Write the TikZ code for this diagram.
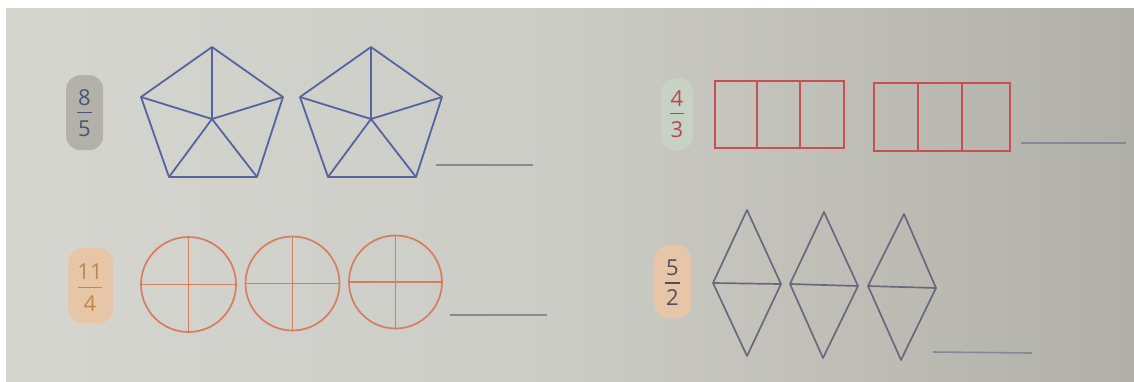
\documentclass[tikz,border=0pt]{standalone}
\usepackage{fontspec}
\setmainfont{Open Sans}
\begin{document}
\begin{tikzpicture}[x=1pt,y=-1pt,
  badge/.style={rounded corners=14pt, inner sep=0pt, anchor=north west},
  digit/.style={font=\fontsize{22}{25}\selectfont, inner sep=0pt},
  penta/.style={draw=pentblue, line width=1.8pt, line join=round},
  rectc/.style={draw=rectred, line width=1.6pt},
  circc/.style={draw=circorange, line width=1.7pt},
  diamc/.style={draw=diamgray, line width=1.7pt, line join=round},
  ansline/.style={draw=ansgray, line width=1.6pt}]
\definecolor{pentblue}{RGB}{85,100,160}
\definecolor{rectred}{RGB}{200,80,85}
\definecolor{circorange}{RGB}{215,125,95}
\definecolor{diamgray}{RGB}{105,105,125}
\definecolor{ansgray}{RGB}{130,138,150}
\definecolor{bggrayL}{RGB}{214,214,208}
\definecolor{bggrayM}{RGB}{204,204,198}
\definecolor{bggrayR}{RGB}{176,176,168}
\definecolor{badgegray}{RGB}{180,178,168}
\definecolor{badgegreen}{RGB}{198,210,196}
\definecolor{badgepeach}{RGB}{230,198,166}
\definecolor{txtblue}{RGB}{70,85,125}
\definecolor{txtred}{RGB}{180,75,75}
\definecolor{txtorange}{RGB}{190,135,80}
\definecolor{txtgray}{RGB}{80,80,90}
\useasboundingbox (0,0) rectangle (1134,381);
\fill[white] (0,0) rectangle (1134,381);
\shade[left color=bggrayL, right color=bggrayR, middle color=bggrayM] (6,8) rectangle (1134,381);

% ---- 8/5 badge
\node[badge, fill=badgegray, minimum width=37pt, minimum height=75pt] (b1) at (66,75) {};
\node[digit, text=txtblue] (b1n) at (84.5,98) {8};
\node[digit, text=txtblue] (b1d) at (84.5,129) {5};
\draw[txtblue, line width=1.2pt] (77,112.5) -- (92,112.5);

% ---- pentagons
\foreach \ox in {0,159}{
 \begin{scope}[xshift=\ox]
  \draw[penta] (212,47) -- (283,97) -- (257,177) -- (169,177) -- (141,97) -- cycle;
  \draw[penta] (212,119) -- (212,47) (212,119) -- (283,97) (212,119) -- (257,177)
     (212,119) -- (169,177) (212,119) -- (141,97);
 \end{scope}}
\coordinate (a1s) at (436,165); \coordinate (a1e) at (533,165);
\draw[ansline] (a1s) -- (a1e);

% ---- 4/3 badge
\node[badge, fill=badgegreen, minimum width=32pt, minimum height=72pt] (b2) at (661,78) {};
\node[digit, text=txtred] (b2n) at (677,99) {4};
\node[digit, text=txtred] (b2d) at (677,130) {3};
\draw[txtred, line width=1.2pt] (670,113.5) -- (684,113.5);

% ---- rectangles
\draw[rectc] (715,81) rectangle (844,148);
\draw[rectc] (757,81) -- (757,148) (800,81) -- (800,148);
\draw[rectc] (874,83) rectangle (1010,151);
\draw[rectc] (918,83) -- (918,151) (962,83) -- (962,151);
\coordinate (a2s) at (1021,143); \coordinate (a2e) at (1126,143);
\draw[ansline] (a2s) -- (a2e);

% ---- 11/4 badge
\node[badge, fill=badgepeach, minimum width=45pt, minimum height=75pt] (b3) at (68,248) {};
\node[digit, text=txtorange] (b3n) at (90,272) {11};
\node[digit, text=txtorange] (b3d) at (90,304) {4};
\draw[txtorange, line width=1.2pt] (78,287.5) -- (102,287.5);

% ---- circles
\foreach \cx/\cy/\r in {188.5/284.5/47.5, 292.5/283.5/47, 395.5/282/46.5}{
  \draw[circc] (\cx,\cy) circle[radius=\r];
  \draw[circc] (\cx-\r,\cy) -- (\cx+\r,\cy) (\cx,\cy-\r) -- (\cx,\cy+\r);
}
\coordinate (a3s) at (450,315); \coordinate (a3e) at (547,315);
\draw[ansline] (a3s) -- (a3e);

% ---- 5/2 badge
\node[badge, fill=badgepeach, minimum width=37pt, minimum height=73pt] (b4) at (654,245) {};
\node[digit, text=txtgray] (b4n) at (672.5,268) {5};
\node[digit, text=txtgray] (b4d) at (672.5,298) {2};
\draw[txtgray, line width=1.2pt] (665,283) -- (680,283);

% ---- diamonds
\draw[diamc] (747,210) -- (781,284) -- (747,356) -- (713,283) -- cycle (713,283) -- (781,284);
\draw[diamc] (824,212) -- (858,286) -- (823,358) -- (790,284) -- cycle (790,284) -- (858,286);
\draw[diamc] (904,214) -- (936,288) -- (901,360) -- (868,286) -- cycle (868,286) -- (936,288);
\coordinate (a4s) at (933,352); \coordinate (a4e) at (1032,353);
\draw[ansline] (a4s) -- (a4e);
\end{tikzpicture}
\end{document}
